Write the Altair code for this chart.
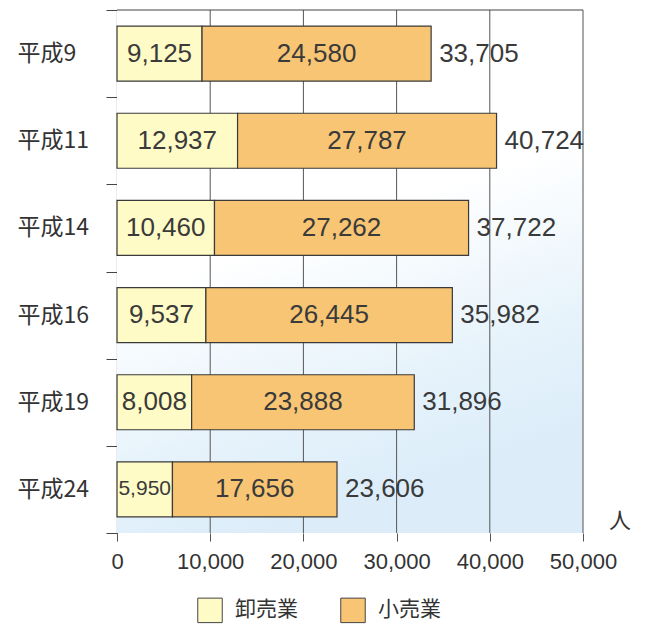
import altair as alt
import pandas as pd

years = ["平成9", "平成11", "平成14", "平成16", "平成19", "平成24"]
wholesale = [9125, 12937, 10460, 9537, 8008, 5950]
retail = [24580, 27787, 27262, 26445, 23888, 17656]
totals = [33705, 40724, 37722, 35982, 31896, 23606]
series = ["卸売業", "小売業"]
colors = ["#fffbc6", "#f7c573"]
x_ticks = [0, 10000, 20000, 30000, 40000, 50000]
unit_label = "人"

W, H = 466, 523

rows = []
for i, y in enumerate(years):
    rows.append({"year": y, "type": series[0], "order": 0, "value": wholesale[i]})
    rows.append({"year": y, "type": series[1], "order": 1, "value": retail[i]})
df = pd.DataFrame(rows)
df_tot = pd.DataFrame({"year": years, "total": totals})
df_grid = pd.DataFrame({"t": x_ticks[1:]})
df_one = pd.DataFrame({"k": [0]})

xscale = alt.Scale(domain=[0, 50000], nice=False, zero=True)
yscale = alt.Scale(domain=years, paddingInner=0, paddingOuter=0)
xaxis = alt.Axis(title=None, values=x_ticks, format=",d")
yaxis = alt.Axis(title=None)

bg = alt.Chart(df_one).mark_rect(
    fill=alt.LinearGradient(
        gradient="linear",
        x1=0, y1=0, x2=0.3, y2=1,
        stops=[
            alt.GradientStop(offset=0, color="#ffffff"),
            alt.GradientStop(offset=0.5, color="#ffffff"),
            alt.GradientStop(offset=0.8, color="#e7f3fb"),
            alt.GradientStop(offset=1, color="#dcedf9"),
        ],
    ),
    stroke=None,
).encode(x=alt.value(0), x2=alt.value(W), y=alt.value(0), y2=alt.value(H))

grid = alt.Chart(df_grid).mark_rule(color="#555555", strokeWidth=1).encode(
    x=alt.X("t:Q", scale=xscale, axis=xaxis),
    y=alt.value(0),
    y2=alt.value(H),
)

base = alt.Chart(df).transform_stack(
    stack="value", as_=["x0", "x1"], groupby=["year"], sort=[alt.SortField("order")]
).transform_calculate(mid="(datum.x0 + datum.x1) / 2")

bars = base.mark_bar(size=55, stroke="#3a3a3a", strokeWidth=1.2).encode(
    x=alt.X("x0:Q", scale=xscale, axis=xaxis),
    x2="x1:Q",
    y=alt.Y("year:N", sort=years, scale=yscale, axis=yaxis),
    color=alt.Color(
        "type:N",
        scale=alt.Scale(domain=series, range=colors),
        legend=alt.Legend(
            title=None,
            orient="none",
            legendX=80,
            legendY=587,
            direction="horizontal",
            symbolType="square",
            symbolSize=600,
            symbolStrokeColor="#444444",
            symbolStrokeWidth=1,
            symbolOpacity=1,
            labelFont="Noto Sans CJK JP",
            labelFontSize=21,
            labelColor="#333333",
            labelOffset=12,
            columnPadding=40,
        ),
    ),
)

seg_text = base.mark_text(
    font="Liberation Sans", color="#3a3a3a", baseline="middle", align="center"
).encode(
    x=alt.X("mid:Q", scale=xscale, axis=xaxis),
    y=alt.Y("year:N", sort=years, scale=yscale, axis=yaxis),
    text=alt.Text("value:Q", format=",d"),
    size=alt.condition("datum.value < 7000", alt.value(21), alt.value(26)),
)

tot_text = alt.Chart(df_tot).mark_text(
    font="Liberation Sans", fontSize=26, color="#3a3a3a", align="left", baseline="middle", dx=8
).encode(
    x=alt.X("total:Q", scale=xscale, axis=xaxis),
    y=alt.Y("year:N", sort=years, scale=yscale, axis=yaxis),
    text=alt.Text("total:Q", format=",d"),
)

top_rule = alt.Chart(df_one).mark_rule(color="#444444", strokeWidth=1.2).encode(
    x=alt.value(0), x2=alt.value(W), y=alt.value(0)
)

unit = alt.Chart(df_one).mark_text(
    font="Noto Sans CJK JP", fontSize=22, color="#333333", align="center", baseline="middle"
).encode(x=alt.value(W + 37), y=alt.value(H - 12), text=alt.value(unit_label))

chart = alt.layer(bg, grid, bars, seg_text, tot_text, top_rule, unit).properties(
    width=W,
    height=H,
    background="white",
    autosize=alt.AutoSizeParams(type="none"),
    padding={"left": 109, "top": 2, "right": 57, "bottom": 95},
).configure_view(stroke=None).configure_axisX(
    grid=False,
    domain=False,
    tickColor="#555555",
    tickSize=8,
    labelFont="Liberation Sans",
    labelFontSize=22,
    labelColor="#333333",
    labelPadding=10,
    labelFlush=False,
    labelOverlap=False,
).configure_axisY(
    grid=False,
    domainColor="#444444",
    domainWidth=1.2,
    tickColor="#444444",
    tickSize=11,
    tickBand="extent",
    labelFont="Noto Sans CJK JP",
    labelFontSize=23,
    labelColor="#333333",
    labelAlign="left",
    labelPadding=89,
)

chart.save("out.html", embed_options={"renderer": "svg", "actions": False})
